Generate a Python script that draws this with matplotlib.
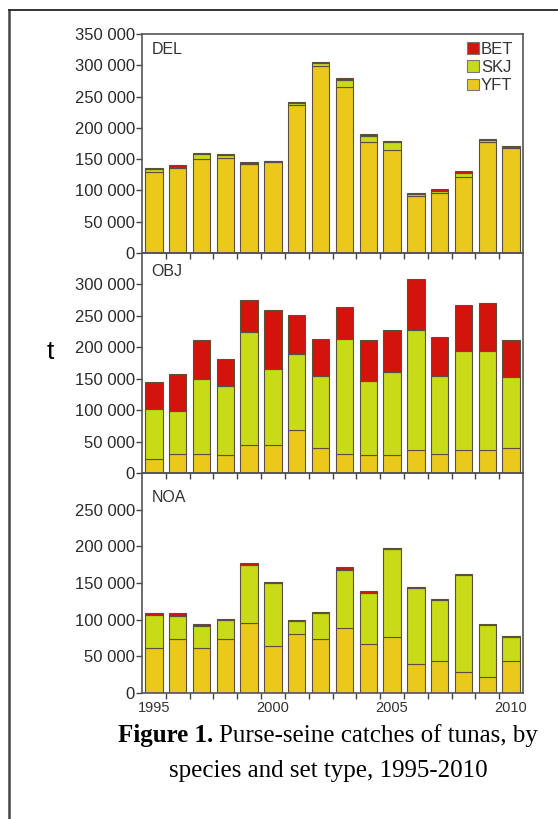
import numpy as np
import matplotlib
matplotlib.use('Agg')
import matplotlib.pyplot as plt
from matplotlib.lines import Line2D
from matplotlib.patches import Patch
from matplotlib.ticker import FuncFormatter

plt.rcParams['font.family'] = ['Liberation Sans', 'DejaVu Sans']

years = np.arange(1995, 2011)

# catches (t) by set type and species
del_yft = [130000, 136000, 150000, 152000, 142000, 146000, 237000, 299000,
           265000, 177000, 165000, 91000, 96000, 121000, 177000, 168000]
del_skj = [4000, 2000, 8000, 5000, 1000, 500, 2000, 4000,
           11000, 10000, 12000, 4000, 3000, 7000, 4000, 1500]
del_bet = [2500, 2000, 1500, 2000, 2500, 1000, 2000, 2000,
           3000, 2500, 2000, 1500, 2500, 3500, 1500, 2000]

obj_yft = [23000, 30000, 31000, 28000, 45000, 44000, 69000, 39000,
           31000, 29000, 28000, 36000, 30000, 36000, 37000, 39000]
obj_skj = [79000, 68000, 118000, 111000, 180000, 121000, 121000, 116000,
           182000, 118000, 132000, 191000, 124000, 158000, 157000, 113000]
obj_bet = [42000, 59000, 63000, 42000, 51000, 95000, 61000, 58000,
           51000, 64000, 68000, 82000, 62000, 73000, 77000, 60000]

noa_yft = [61000, 73000, 61000, 73000, 96000, 64000, 80000, 73000,
           88000, 67000, 76000, 40000, 44000, 29000, 22000, 44000]
noa_skj = [45000, 32000, 31000, 26000, 79000, 86000, 18000, 36000,
           80000, 70000, 120000, 103000, 83000, 132000, 71000, 32000]
noa_bet = [3000, 4000, 1500, 2000, 2000, 1500, 1500, 1000,
           3500, 2000, 1500, 1500, 1500, 1500, 1000, 1500]

species = ['BET', 'SKJ', 'YFT']
c_yft = '#EBC91C'
c_skj = '#C8DA18'
c_bet = '#D3140C'

year_labels = [1995, 2000, 2005, 2010]

W, H = 558, 819
fig = plt.figure(figsize=(W / 100, H / 100), dpi=100)

# panel: name, data, ymax, tick top, y of panel (px top, px bottom), label y
panels = [
    ('DEL', del_yft, del_skj, del_bet, 350000, 350000, 34, 253, 0.93),
    ('OBJ', obj_yft, obj_skj, obj_bet, 350000, 300000, 253, 473, 0.914),
    ('NOA', noa_yft, noa_skj, noa_bet, 300000, 250000, 473, 693, 0.89),
]

fmt = FuncFormatter(lambda v, p: f'{int(v):,}'.replace(',', ' '))
left, right = 142, 523
axes = []
for i, (name, yft, skj, bet, ymax, ytop, ptop, pbot, ly) in enumerate(panels):
    ax = fig.add_axes([left / W, 1 - pbot / H, (right - left) / W, (pbot - ptop) / H])
    ax.patch.set_alpha(0)
    yft = np.array(yft)
    skj = np.array(skj)
    bet = np.array(bet)
    kw = dict(width=0.73, edgecolor='#5a5040', linewidth=0.8)
    ax.bar(years, yft, color=c_yft, **kw)
    ax.bar(years, skj, bottom=yft, color=c_skj, **kw)
    ax.bar(years, bet, bottom=yft + skj, color=c_bet, **kw)

    ax.set_xlim(1994.5, 2010.5)
    ax.set_ylim(0, ymax)
    ax.set_yticks(np.arange(0, ytop + 1, 50000))
    ax.yaxis.set_major_formatter(fmt)
    ax.set_xticks(np.arange(1995.5, 2010, 1))
    ax.set_xticklabels([])
    ax.set_xticks(year_labels, minor=True)
    if i == 2:
        ax.set_xticklabels([str(y) for y in year_labels], minor=True)
    else:
        ax.set_xticklabels([], minor=True)
    ax.tick_params(axis='x', which='minor', length=0, pad=6, labelsize=10.5,
                   labelcolor='#333')
    ax.tick_params(axis='x', which='major', length=4, width=1, color='#444')
    ax.tick_params(axis='y', length=4, width=1, color='#444', labelsize=12,
                   labelcolor='#2a2a2a', pad=1)
    for s in ax.spines.values():
        s.set_color('#555')
        s.set_linewidth(1.2)
    ax.text(0.025, ly, name, transform=ax.transAxes, fontsize=11.5,
            va='center', ha='left', color='#333')
    axes.append(ax)

handles = [Patch(facecolor=c, edgecolor='#777', linewidth=0.8)
           for c in [c_bet, c_skj, c_yft]]
axes[0].legend(handles, species, loc='upper right', bbox_to_anchor=(0.975, 0.965),
               frameon=False, fontsize=12, handlelength=0.7, handleheight=0.7,
               handletextpad=0.15, labelspacing=0.2, borderpad=0,
               borderaxespad=0, labelcolor='#333')

fig.text(50 / W, 1 - 352 / H, 't', fontsize=19, ha='center', va='center')

# outer frame (left and top edge)
fig.add_artist(Line2D([9 / W, 9 / W], [0, 1 - 10 / H], color='#444', lw=1.8,
                      transform=fig.transFigure))
fig.add_artist(Line2D([9 / W, 1], [1 - 10 / H, 1 - 10 / H], color='#333', lw=1.4,
                      transform=fig.transFigure))

# caption
serif = ['Liberation Serif', 'DejaVu Serif']
cx = 328
r = fig.canvas.get_renderer()
t1 = fig.text(0, 1 - 742 / H, 'Figure 1.', fontweight='bold', family=serif,
              fontsize=18, va='baseline')
t2 = fig.text(0, 1 - 742 / H, 'Purse-seine catches of tunas, by', family=serif,
              fontsize=18, va='baseline')
w1 = t1.get_window_extent(r).width
w2 = t2.get_window_extent(r).width
gap = 5
x0 = cx - (w1 + gap + w2) / 2
t1.set_x(x0 / W)
t2.set_x((x0 + w1 + gap) / W)
fig.text(cx / W, 1 - 777 / H, 'species and set type, 1995-2010', family=serif,
         fontsize=18, va='baseline', ha='center')

fig.savefig('out.png', dpi=100)
